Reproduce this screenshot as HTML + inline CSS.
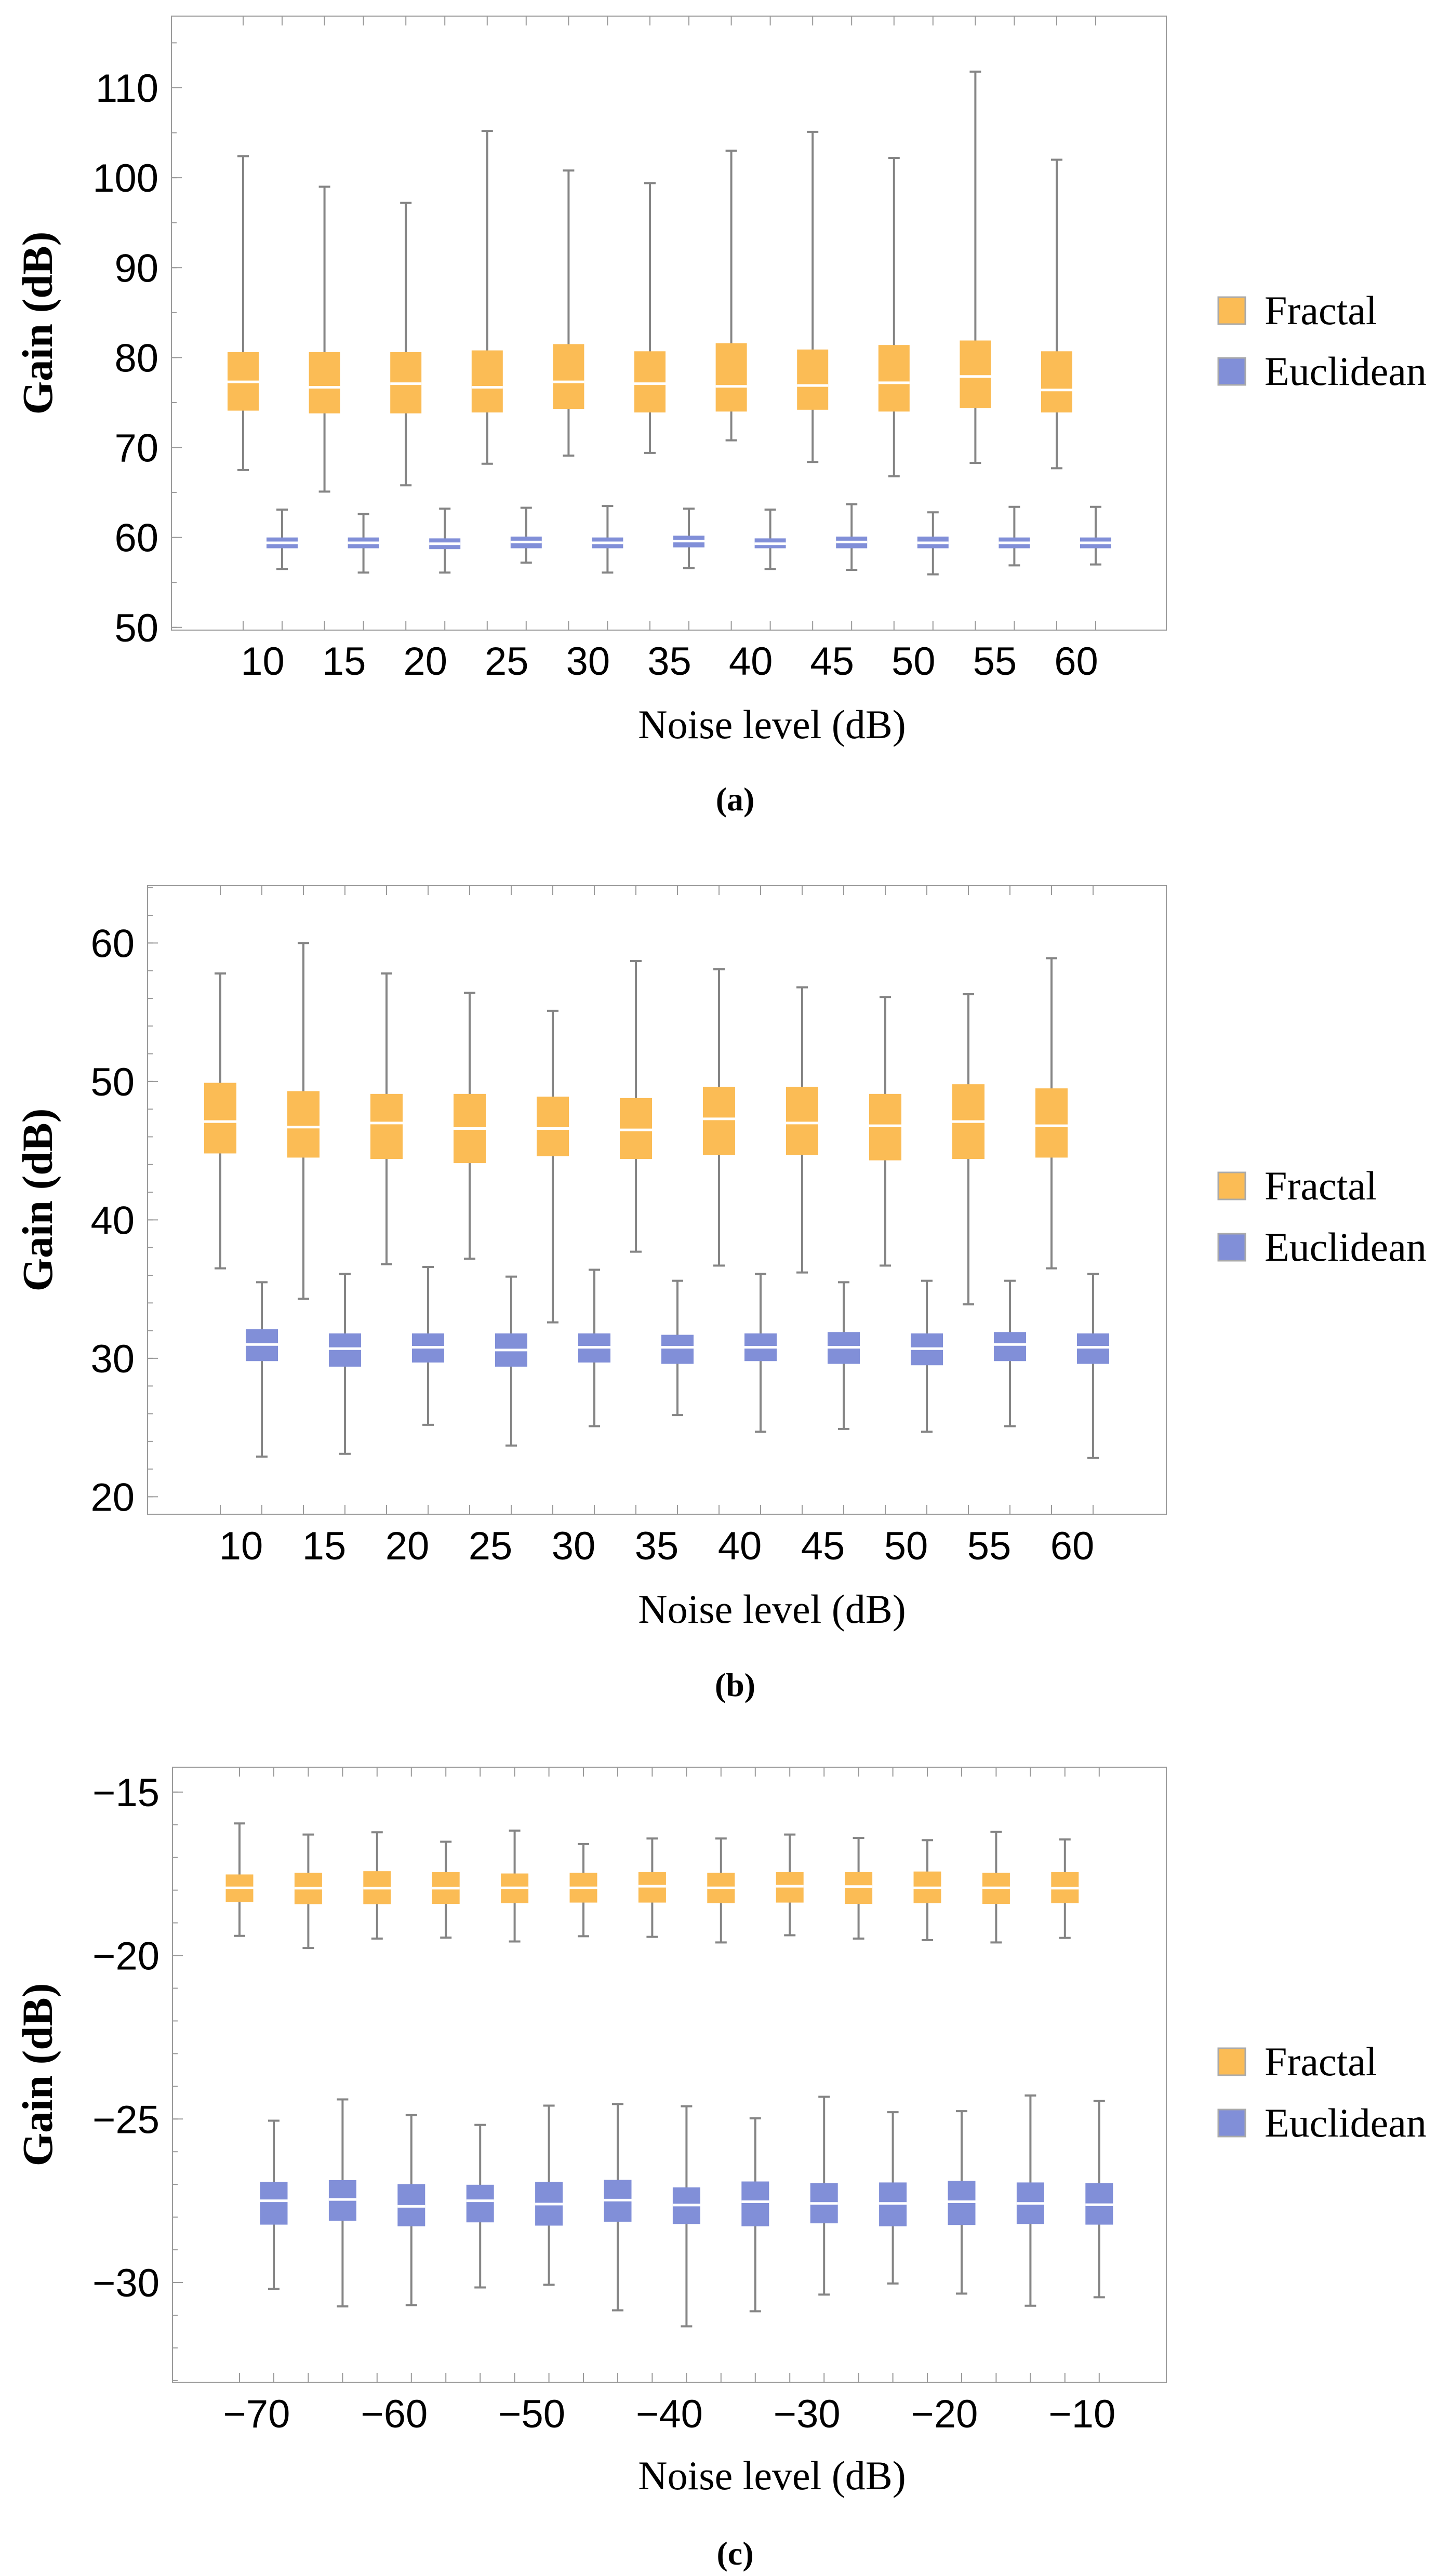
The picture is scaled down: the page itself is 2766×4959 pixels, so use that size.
<!DOCTYPE html>
<html><head><meta charset="utf-8"><style>
html,body{margin:0;padding:0;background:#fff;}
svg{display:block;}
</style></head><body>
<svg id="fig" width="2766" height="4959" viewBox="0 0 2766 4959" xmlns="http://www.w3.org/2000/svg"></svg>
<script>
// ---- Chart (a) data ----
const catsA = [10,15,20,25,30,35,40,45,50,55,60];
const fracA_hi = [102.4,99.0,97.2,105.2,100.8,99.4,103.0,105.1,102.2,111.8,102.0];
const fracA_q3 = [80.6,80.6,80.6,80.8,81.5,80.7,81.6,80.9,81.4,81.9,80.7];
const fracA_med = [77.3,76.7,77.1,76.7,77.3,77.1,76.8,76.9,77.2,77.9,76.4];
const fracA_q1 = [74.1,73.8,73.8,73.9,74.3,73.9,74.0,74.2,74.0,74.4,73.9];
const fracA_lo = [67.5,65.1,65.8,68.2,69.1,69.4,70.8,68.4,66.8,68.3,67.7];
const eucA_hi = [63.1,62.6,63.2,63.3,63.5,63.2,63.1,63.7,62.8,63.4,63.4];
const eucA_q3 = [60.0,60.0,59.9,60.1,60.0,60.2,59.9,60.1,60.1,60.0,60.0];
const eucA_med = [59.4,59.4,59.3,59.5,59.4,59.6,59.3,59.5,59.4,59.4,59.4];
const eucA_q1 = [58.8,58.8,58.7,58.8,58.8,58.9,58.8,58.8,58.8,58.8,58.8];
const eucA_lo = [56.5,56.1,56.1,57.2,56.1,56.6,56.5,56.4,55.9,56.9,57.0];
const ticksA = [50,60,70,80,90,100,110];
const xLabelsA = [10,15,20,25,30,35,40,45,50,55,60];

// ---- Chart (b) data ----
const catsB = [10,15,20,25,30,35,40,45,50,55,60];
const fracB_hi = [57.8,60.0,57.8,56.4,55.1,58.7,58.1,56.8,56.1,56.3,58.9];
const fracB_q3 = [49.9,49.3,49.1,49.1,48.9,48.8,49.6,49.6,49.1,49.8,49.5];
const fracB_med = [47.1,46.7,47.0,46.6,46.6,46.5,47.3,47.0,46.8,47.1,46.8];
const fracB_q1 = [44.8,44.5,44.4,44.1,44.6,44.4,44.7,44.7,44.3,44.4,44.5];
const fracB_lo = [36.5,34.3,36.8,37.2,32.6,37.7,36.7,36.2,36.7,33.9,36.5];
const eucB_hi = [35.5,36.1,36.6,35.9,36.4,35.6,36.1,35.5,35.6,35.6,36.1];
const eucB_q3 = [32.1,31.8,31.8,31.8,31.8,31.7,31.8,31.9,31.8,31.9,31.8];
const eucB_med = [31.0,30.7,30.8,30.6,30.8,30.8,30.8,30.8,30.7,31.0,30.8];
const eucB_q1 = [29.8,29.4,29.7,29.4,29.7,29.6,29.8,29.6,29.5,29.8,29.6];
const eucB_lo = [22.9,23.1,25.2,23.7,25.1,25.9,24.7,24.9,24.7,25.1,22.8];
const ticksB = [20,30,40,50,60];
const xLabelsB = [10,15,20,25,30,35,40,45,50,55,60];

// ---- Chart (c) data ----
const catsC = [-70,-65,-60,-55,-50,-45,-40,-35,-30,-25,-20,-15,-10];
const fracC_hi = [-15.96,-16.30,-16.23,-16.52,-16.18,-16.59,-16.42,-16.42,-16.30,-16.40,-16.47,-16.22,-16.45];
const fracC_q3 = [-17.52,-17.47,-17.42,-17.45,-17.49,-17.47,-17.45,-17.47,-17.45,-17.45,-17.43,-17.47,-17.45];
const fracC_med = [-17.93,-17.94,-17.94,-17.94,-17.93,-17.93,-17.88,-17.93,-17.88,-17.89,-17.93,-17.93,-17.94];
const fracC_q1 = [-18.37,-18.43,-18.43,-18.42,-18.40,-18.38,-18.38,-18.40,-18.38,-18.42,-18.40,-18.42,-18.40];
const fracC_lo = [-19.40,-19.77,-19.48,-19.45,-19.57,-19.41,-19.43,-19.60,-19.38,-19.48,-19.53,-19.60,-19.46];
const eucC_hi = [-25.05,-24.40,-24.88,-25.18,-24.59,-24.54,-24.61,-24.98,-24.32,-24.79,-24.76,-24.28,-24.45];
const eucC_q3 = [-26.92,-26.87,-26.99,-27.01,-26.92,-26.86,-27.09,-26.91,-26.96,-26.94,-26.89,-26.94,-26.96];
const eucC_med = [-27.50,-27.46,-27.67,-27.50,-27.60,-27.48,-27.63,-27.53,-27.58,-27.58,-27.53,-27.58,-27.62];
const eucC_q1 = [-28.23,-28.11,-28.28,-28.16,-28.26,-28.14,-28.21,-28.28,-28.19,-28.28,-28.24,-28.21,-28.23];
const eucC_lo = [-30.19,-30.73,-30.69,-30.15,-30.07,-30.85,-31.34,-30.88,-30.37,-30.03,-30.34,-30.71,-30.45];
const ticksC = [-30,-25,-20,-15];
const xLabelsC = [-70,-60,-50,-40,-30,-20,-10];

const NS = 'http://www.w3.org/2000/svg';
const svg = document.getElementById('fig');
const FRAC = '#FBBC55', EUC = '#818FD8', WHISK = '#858585';

function mk(tag, attrs, parent){
  const e = document.createElementNS(NS, tag);
  for (const k in attrs) e.setAttribute(k, attrs[k]);
  (parent||svg).appendChild(e);
  return e;
}

function chart(cfg){
  const g = mk('g', {});
  
  
  const {L,R,T,B,vMin,vMax} = cfg;
  const ys = v => B - (v - vMin) / (vMax - vMin) * (B - T);
  const xs = v => cfg.c0 + (v - cfg.cats[0]) / cfg.step * cfg.spacing;
  const fr = mk('rect', {x:L, y:T, width:R-L, height:B-T, fill:'none', stroke:'#9a9a9a', 'stroke-width':2}, g);
  
  
  for (let v = Math.ceil(vMin/cfg.minor)*cfg.minor; v <= vMax; v += cfg.minor){
    const y = ys(v);
    mk('line', {x1:L, x2:L+10, y1:y, y2:y, stroke:'#9a9a9a', 'stroke-width':2}, g);
  }
  cfg.ticks.forEach(v => {
    const y = ys(v);
    const tl = mk('line', {x1:L, x2:L+20, y1:y, y2:y, stroke:'#9a9a9a', 'stroke-width':2}, g);
    
    
    const t = mk('text', {x:L-25, y:y+27, 'text-anchor':'end', 'font-family':'Liberation Sans, sans-serif', 'font-size':76, fill:'#000'}, g);
    t.textContent = v < 0 ? '\u2212' + Math.abs(v) : String(v);
    
    
  });
  cfg.cats.forEach(c => {
    [xs(c)-cfg.d, xs(c)+cfg.d].forEach(x => {
      mk('line', {x1:x, x2:x, y1:B, y2:B-18, stroke:'#9a9a9a', 'stroke-width':2}, g);
      mk('line', {x1:x, x2:x, y1:T, y2:T+18, stroke:'#9a9a9a', 'stroke-width':2}, g);
    });
  });
  cfg.xLabels.forEach(v => {
    const t = mk('text', {x:xs(v), y:cfg.xLabelY+27, 'text-anchor':'middle', 'font-family':'Liberation Sans, sans-serif', 'font-size':76, fill:'#000'}, g);
    t.textContent = v < 0 ? '\u2212' + Math.abs(v) : String(v);
    
    
  });
  function box(x, hi, q3, med, q1, lo, color, nm){
    const bg = mk('g', {}, g);
    
    
    const w = cfg.bw;
    mk('line', {x1:x, x2:x, y1:ys(hi), y2:ys(lo), stroke:WHISK, 'stroke-width':4}, bg);
    mk('line', {x1:x-11, x2:x+11, y1:ys(hi), y2:ys(hi), stroke:WHISK, 'stroke-width':4}, bg);
    mk('line', {x1:x-11, x2:x+11, y1:ys(lo), y2:ys(lo), stroke:WHISK, 'stroke-width':4}, bg);
    mk('rect', {x:x-w/2, y:ys(q3), width:w, height:ys(q1)-ys(q3), fill:color}, bg);
    mk('line', {x1:x-w/2, x2:x+w/2, y1:ys(med), y2:ys(med), stroke:'#fff', 'stroke-width':5}, bg);
  }
  cfg.cats.forEach((c,i) => {
    box(xs(c)-cfg.d, cfg.f[0][i], cfg.f[1][i], cfg.f[2][i], cfg.f[3][i], cfg.f[4][i], FRAC, 'fractal-box-' + c);
    box(xs(c)+cfg.d, cfg.e[0][i], cfg.e[1][i], cfg.e[2][i], cfg.e[3][i], cfg.e[4][i], EUC, 'euclidean-box-' + c);
  });
  const yt = mk('text', {x:0, y:0, transform:`translate(${cfg.yTitleX},${(T+B)/2}) rotate(-90)`, 'text-anchor':'middle', 'font-family':'Liberation Serif, serif', 'font-weight':'bold', 'font-size':83, fill:'#000'}, g);
  yt.textContent = 'Gain (dB)';
  
  
  const xt = mk('text', {x:1486, y:cfg.xTitleY+26, 'text-anchor':'middle', 'font-family':'Liberation Serif, serif', 'font-size':78, fill:'#000'}, g);
  xt.textContent = 'Noise level (dB)';
  
  
  const cap = mk('text', {x:1415, y:cfg.capY+22, 'text-anchor':'middle', 'font-family':'Liberation Serif, serif', 'font-weight':'bold', 'font-size':64, fill:'#000'}, g);
  cap.textContent = cfg.caption;
  
  
  [[cfg.legY[0], FRAC, 'Fractal'], [cfg.legY[1], EUC, 'Euclidean']].forEach(([y,col,lab]) => {
    const lg = mk('g', {}, g);
    
    
    mk('rect', {x:2345, y:y-26, width:52, height:52, fill:col, stroke:'#aaaaaa', 'stroke-width':3}, lg);
    const t = mk('text', {x:2434, y:y+26, 'font-family':'Liberation Serif, serif', 'font-size':78, fill:'#000'}, lg);
    t.textContent = lab;
  });
}

chart({name:'chart-a', L:330, R:2245, T:31, B:1213, vMin:49.7, vMax:117.97, minor:5,
  ticks:ticksA, xLabels:xLabelsA, cats:catsA, c0:505.5, step:5, spacing:156.6, d:37.5, bw:60,
  f:[fracA_hi,fracA_q3,fracA_med,fracA_q1,fracA_lo], e:[eucA_hi,eucA_q3,eucA_med,eucA_q1,eucA_lo],
  xLabelY:1272, yTitleX:100, xTitleY:1395, capY:1538, caption:'(a)', legY:[598,715]});

chart({name:'chart-b', L:284, R:2245, T:1705, B:2915, vMin:18.74, vMax:64.14, minor:2,
  ticks:ticksB, xLabels:xLabelsB, cats:catsB, c0:464, step:5, spacing:160, d:40, bw:62,
  f:[fracB_hi,fracB_q3,fracB_med,fracB_q1,fracB_lo], e:[eucB_hi,eucB_q3,eucB_med,eucB_q1,eucB_lo],
  xLabelY:2975, yTitleX:100, xTitleY:3098, capY:3243, caption:'(b)', legY:[2283,2401]});

chart({name:'chart-c', L:332, R:2245, T:3402, B:4586, vMin:-33.05, vMax:-14.24, minor:1,
  ticks:ticksC, xLabels:xLabelsC, cats:catsC, c0:494, step:5, spacing:132.4, d:33, bw:53,
  f:[fracC_hi,fracC_q3,fracC_med,fracC_q1,fracC_lo], e:[eucC_hi,eucC_q3,eucC_med,eucC_q1,eucC_lo],
  xLabelY:4646, yTitleX:100, xTitleY:4766, capY:4915, caption:'(c)', legY:[3969,4087]});
</script>
</body></html>
